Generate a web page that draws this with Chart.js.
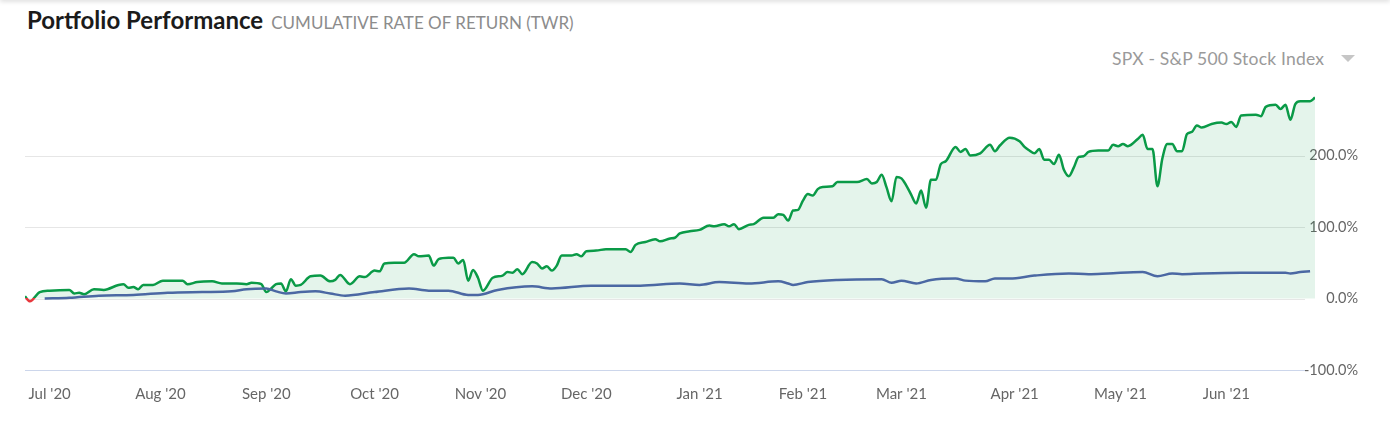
<!DOCTYPE html>
<html>
<head>
<meta charset="utf-8">
<title>Portfolio Performance</title>
<script src="https://cdn.jsdelivr.net/npm/chart.js@4.4.1/dist/chart.umd.min.js"></script>
<style>
  html, body { margin: 0; padding: 0; background: #fff; }
  body { width: 1390px; height: 427px; position: relative; overflow: hidden; font-family: Lato, "Noto Sans", sans-serif; }
  .topShadow { position: absolute; left: 0; top: -4px; width: 1390px; height: 4px; box-shadow: 0 1px 5px rgba(0,0,0,0.18); }
  .title { position: absolute; left: 27px; top: 5px; white-space: nowrap; line-height: 30px; }
  .title b { font-size: 24px; font-weight: 700; color: #1b1b1b; }
  .title span { font-size: 17px; color: #8c8c8c; margin-left: 4px; }
  .picker { position: absolute; left: 1112px; top: 48px; font-size: 17.5px; letter-spacing: 0.2px; color: #9a9a9a; line-height: 22px; white-space: nowrap; }
  .picker i { display: inline-block; width: 0; height: 0; margin-left: 17px; vertical-align: 3px;
    border-left: 7px solid transparent; border-right: 7px solid transparent; border-top: 7px solid #c6c6c6; }
  #chart { position: absolute; left: 0; top: 0; }
</style>
</head>
<body>
<div class="topShadow"></div>
<div class="title"><b>Portfolio Performance</b> <span>CUMULATIVE RATE OF RETURN (TWR)</span></div>
<div class="picker">SPX - S&amp;P 500 Stock Index<i></i></div>
<canvas id="chart" width="1390" height="427"></canvas>
<script>
'use strict';

// x = weekday number counted from Wed 24 Jun 2020
let monthTicks = [5, 27.5, 49, 71, 92.5, 114, 137, 158, 178, 201, 222.5, 244];
let monthLabels = ['Jul \'20', 'Aug \'20', 'Sep \'20', 'Oct \'20', 'Nov \'20', 'Dec \'20',
  'Jan \'21', 'Feb \'21', 'Mar \'21', 'Apr \'21', 'May \'21', 'Jun \'21'];
let yTicks = [-100, 0, 100, 200];

let portfolioDays = [
  0, 1, 3, 5, 9, 10, 11, 12, 14, 16,
  19, 20, 21, 22, 23, 24, 26, 28, 30, 32,
  33, 35, 38, 40, 43, 45, 46, 48, 49, 50,
  51, 52, 53, 54, 55, 56, 58, 60, 62, 63,
  64, 66, 68, 69, 71, 72, 73, 75, 77, 79,
  80, 82, 83, 84, 86, 87, 88, 89, 90, 91,
  92, 93, 95, 97, 98, 99, 100, 101, 103, 104,
  105, 106, 107, 108, 109, 111, 112, 113, 114, 116,
  118, 122, 123, 124, 126, 128, 129, 131, 132, 133,
  135, 137, 139, 140, 142, 143, 144, 145, 147, 148,
  150, 152, 153, 154, 155, 156, 157, 158, 159, 160,
  161, 162, 164, 165, 169, 171, 172, 173, 174, 175,
  176, 177, 178, 179, 180, 181, 182, 183, 184, 185,
  186, 187, 189, 190, 191, 192, 194, 196, 197, 198,
  200, 202, 203, 204, 205, 206, 207, 208, 209, 210,
  211, 212, 213, 214, 215, 216, 218, 220, 221, 222,
  223, 224, 226, 227, 228, 229, 230, 231, 232, 233,
  234, 235, 236, 237, 238, 239, 241, 243, 244, 245,
  246, 247, 250, 251, 252, 254, 255, 256, 257, 258,
  259, 261, 262
];
let portfolioReturn = [
  3, -4, 9, 11, 12, 7, 8, 6, 13, 12,
  19, 20, 15, 16, 13, 19, 19, 25, 25, 25,
  20, 23, 24, 21, 21, 20, 22, 20, 9, 14,
  20, 21, 10, 27, 18, 19, 31, 32, 24, 26,
  33, 20, 31, 30, 39, 38, 49, 50, 50, 62,
  59, 60, 46, 55, 57, 57, 49, 54, 25, 40,
  29, 11, 29, 32, 37, 36, 41, 34, 51, 49,
  42, 45, 39, 46, 60, 60, 62, 59, 66, 67,
  69, 69, 65, 75, 79, 83, 80, 84, 85, 91,
  94, 96, 102, 101, 104, 101, 104, 97, 103, 104,
  113, 113, 118, 117, 109, 123, 124, 137, 146, 144,
  153, 156, 157, 163, 163, 167, 161, 163, 173, 155,
  136, 170, 168, 158, 145, 133, 151, 127, 166, 166,
  188, 192, 212, 205, 209, 200, 203, 215, 206, 214,
  225, 220, 212, 207, 203, 209, 194, 194, 188, 201,
  180, 171, 183, 198, 199, 205, 207, 207, 215, 213,
  216, 213, 223, 229, 209, 209, 157, 196, 216, 216,
  206, 206, 230, 233, 242, 239, 244, 246, 244, 247,
  240, 256, 257, 255, 268, 271, 265, 271, 250, 272,
  276, 276, 281
];

let spxDays = [
  4, 9, 15, 22, 29, 36, 42, 45, 49, 51,
  53, 56, 59, 62, 65, 71, 78, 82, 86, 90,
  92, 96, 103, 107, 115, 125, 133, 137, 141, 147,
  153, 155, 156, 159, 165, 174, 176, 178, 181, 184,
  189, 191, 195, 197, 200, 205, 212, 216, 220, 227,
  230, 233, 235, 239, 247, 253, 256, 257, 259, 261
];
let spxReturn = [
  0, 1, 4, 5, 8, 9, 10, 13, 14, 10,
  7, 9, 10, 7, 4, 9, 14, 11, 11, 5,
  5, 12, 17, 14, 18, 18, 21, 19, 23, 21,
  24, 21, 19, 23, 26, 27, 22, 25, 21, 26,
  28, 25, 24, 28, 28, 32, 35, 34, 35, 37,
  31, 35, 34, 35, 36, 36, 36, 35, 37, 38
];

let green = '#0a9a47';
let red = '#e8383d';
let blue = '#4b68a3';

function toPoints(days, values) {
  let pts = [];
  for (let i = 0; i < days.length; i++) {
    pts.push({ x: days[i], y: values[i] });
  }
  return pts;
}

// green above zero, red below
function portfolioStroke(context) {
  let chart = context.chart;
  let area = chart.chartArea;
  if (!area) {
    return green;
  }
  let zero = chart.scales.y.getPixelForValue(0);
  let stop = (zero - area.top) / (area.bottom - area.top);
  stop = Math.min(Math.max(stop, 0), 1);
  let grad = chart.ctx.createLinearGradient(0, area.top, 0, area.bottom);
  grad.addColorStop(0, green);
  grad.addColorStop(stop, green);
  grad.addColorStop(stop, red);
  grad.addColorStop(1, red);
  return grad;
}

// grid lines stop short of the right edge so the labels sit clear of them
let shortGrid = {
  id: 'shortGrid',
  beforeDatasetsDraw: function (chart) {
    let c = chart.ctx;
    let area = chart.chartArea;
    let yScale = chart.scales.y;
    c.save();
    c.lineWidth = 1;
    yScale.ticks.forEach(function (t) {
      let py = Math.round(yScale.getPixelForValue(t.value)) + 0.5;
      c.strokeStyle = t.value === -100 ? '#ccd6eb' : '#e6e6e6';
      c.beginPath();
      c.moveTo(area.left, py);
      c.lineTo(area.right - 10, py);
      c.stroke();
    });
    c.restore();
  }
};

let ctx = document.getElementById('chart').getContext('2d');

let chartObj = {
  type: 'line',
  data: {
    datasets: [{
      label: 'SPX - S&P 500 Stock Index',
      data: toPoints(spxDays, spxReturn),
      borderColor: blue,
      borderWidth: 2.5,
      pointRadius: 0,
      fill: false,
      cubicInterpolationMode: 'monotone'
    },
    {
      label: 'Portfolio',
      data: toPoints(portfolioDays, portfolioReturn),
      borderColor: portfolioStroke,
      backgroundColor: 'rgba(20, 160, 80, 0.115)',
      borderWidth: 2.5,
      pointRadius: 0,
      fill: 'origin',
      cubicInterpolationMode: 'monotone'
    }]
  },
  options: {
    responsive: false,
    animation: false,
    devicePixelRatio: 1,
    layout: {
      padding: { left: 25, right: 32, top: 84, bottom: 0 }
    },
    plugins: {
      legend: { display: false },
      tooltip: { enabled: false }
    },
    scales: {
      x: {
        type: 'linear',
        min: 0,
        max: 262,
        grid: { display: false, drawTicks: false },
        border: { display: false },
        afterBuildTicks: function (scale) {
          scale.ticks = monthTicks.map(function (v) { return { value: v }; });
        },
        afterFit: function (scale) {
          scale.height = 57;
        },
        ticks: {
          autoSkip: false,
          maxRotation: 0,
          padding: 15,
          color: '#666666',
          font: { family: 'Lato', size: 15 },
          callback: function (value, index) {
            return monthLabels[index];
          }
        }
      },
      y: {
        position: 'right',
        min: -100,
        max: 300,
        afterBuildTicks: function (scale) {
          scale.ticks = yTicks.map(function (v) { return { value: v }; });
        },
        afterFit: function (scale) {
          scale.width = 43;
        },
        grid: { display: false, drawTicks: false },
        border: { display: false },
        ticks: {
          // mirrored labels are not clipped to the axis box
          mirror: true,
          crossAlign: 'near',
          padding: 43,
          color: '#666666',
          font: { family: 'Lato', size: 14.5 },
          callback: function (value) {
            return value.toFixed(1) + '%';
          }
        }
      }
    }
  },
  plugins: [shortGrid]
};

const myChart = new Chart(ctx, chartObj);
</script>
</body>
</html>
